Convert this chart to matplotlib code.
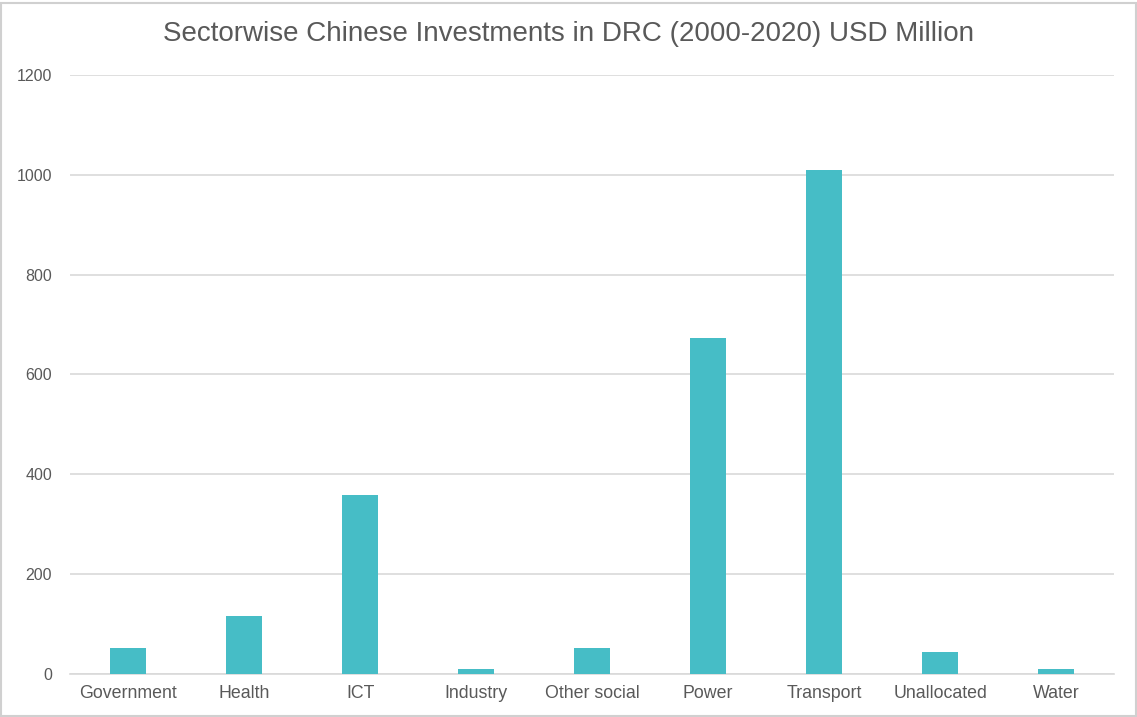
import matplotlib
matplotlib.use("Agg")
import matplotlib.pyplot as plt
import numpy as np

sectors = ['Government', 'Health', 'ICT', 'Industry', 'Other social',
           'Power', 'Transport', 'Unallocated', 'Water']
investment = [53, 117, 358, 9, 53, 674, 1010, 45, 9]
yticks = [0, 200, 400, 600, 800, 1000, 1200]

plt.rcParams['font.family'] = ['Liberation Sans', 'DejaVu Sans']

fig = plt.figure(figsize=(11.37, 7.17), dpi=100)
ax = fig.add_axes([0.0616, 0.06, 0.9184, 0.8354])

x = np.arange(len(sectors))
ax.bar(x, investment, width=0.31, color='#46BDC6', zorder=3)

ax.set_xlim(-0.5, len(sectors) - 0.5)
ax.set_ylim(0, 1200)
ax.set_yticks(yticks)
ax.set_xticks(x, labels=sectors)
ax.yaxis.grid(True, color='#D9D9D9', linewidth=1.2, zorder=0)
ax.tick_params(axis='both', length=0, colors='#595959')
ax.tick_params(axis='y', pad=13, labelsize=11.5)
ax.tick_params(axis='x', pad=8, labelsize=12.8)
for side in ['top', 'right', 'left']:
    ax.spines[side].set_visible(False)
ax.spines['bottom'].set_color('#D9D9D9')
ax.spines['bottom'].set_linewidth(1.2)

fig.text(0.5, 0.952, 'Sectorwise Chinese Investments in DRC (2000-2020) USD Million',
         ha='center', va='center', fontsize=20, color='#595959')

# thin frame around the whole picture
fig.patches.append(plt.Rectangle((0.001, 0.001), 0.998, 0.995, transform=fig.transFigure,
                                 fill=False, edgecolor='#D0D0D0', linewidth=1.5))

fig.savefig('out.png', dpi=100)
